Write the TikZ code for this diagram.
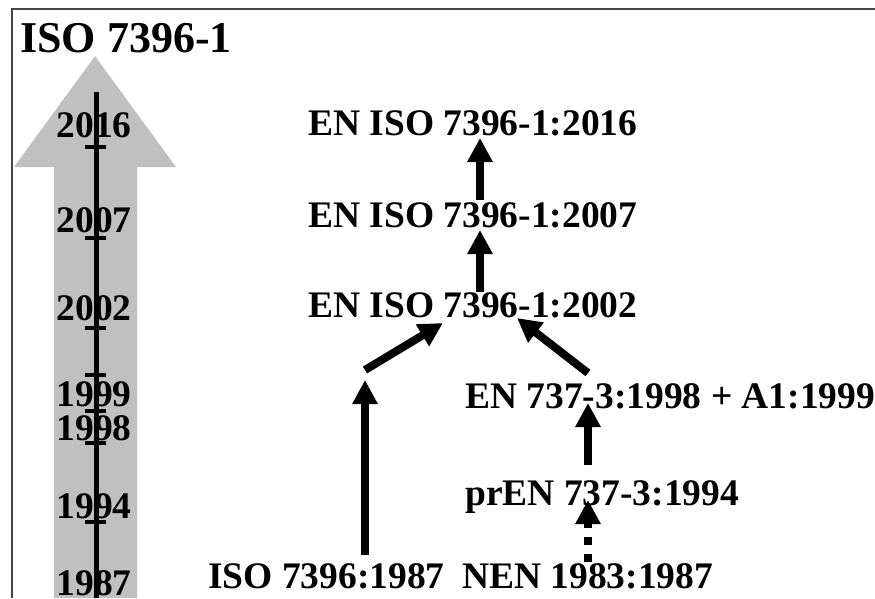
\documentclass[tikz,border=0pt]{standalone}
\usepackage{fontspec}
\setmainfont{Liberation Serif}
\usetikzlibrary{arrows.meta}
\definecolor{arrowgray}{RGB}{192,192,192}
\definecolor{framegray}{RGB}{70,70,70}
\begin{document}
\begin{tikzpicture}[x=1pt,y=-1pt,
  lbl/.style={font=\fontsize{37.5}{40}\selectfont\bfseries, inner sep=0pt, anchor=base west},
  yr/.style={font=\fontsize{37.5}{40}\selectfont\bfseries, inner sep=0pt, anchor=base},
  conn/.style={line width=8pt, -{Triangle[width=24pt,length=24pt]}},
  dconn/.style={conn, dash pattern=on 8pt off 9pt},
  tickmark/.style={line width=4pt},
  axis/.style={line width=5pt}]
\useasboundingbox (0,0) rectangle (875,598);
% frame
\draw[framegray, line width=1.5pt] (12,598) -- (12,9) -- (875,9);
% big gray arrow
\fill[arrowgray] (54,598) -- (54,167) -- (14,167) -- (95,56) -- (176,167) -- (137,167) -- (137,598) -- cycle;
% title
\node[anchor=base west, inner sep=0pt, font=\fontsize{44}{46}\selectfont\bfseries] (title) at (20,52) {ISO 7396-1};
% years
\node[yr] (y2016) at (94,137) {2016};
\node[yr] (y2007) at (94,232) {2007};
\node[yr] (y2002) at (94,320) {2002};
\node[yr] (y1999) at (94,406) {1999};
\node[yr] (y1998) at (94,440) {1998};
\node[yr] (y1994) at (94,518) {1994};
\node[yr] (y1987) at (94,595) {1987};
% time axis
\coordinate (axtop) at (96,92);
\coordinate (axbot) at (96,598);
\draw[axis] (axtop) -- (axbot);
\foreach \yy in {147,238,328,375,411,443,522}
  \draw[tickmark] (85,\yy) -- (106,\yy);
% standards
\node[lbl] (e2016) at (308,135) {EN ISO 7396-1:2016};
\node[lbl] (e2007) at (308,227) {EN ISO 7396-1:2007};
\node[lbl] (e2002) at (308,317) {EN ISO 7396-1:2002};
\node[lbl] (en737) at (465,408) {EN 737-3:1998 + A1:1999};
\node[lbl] (pren) at (465,505) {prEN 737-3:1994};
\node[lbl] (iso87) at (208,588) {ISO 7396:1987};
\node[lbl] (nen) at (462,588) {NEN 1983:1987};
% connector ends
\coordinate (a1s) at (480,200); \coordinate (a1e) at (480,138);
\coordinate (a2s) at (480,292); \coordinate (a2e) at (480,230);
\coordinate (a3s) at (365,555); \coordinate (a3e) at (365,380);
\coordinate (a4s) at (365,370); \coordinate (a4e) at (443,323);
\coordinate (a5s) at (588,373); \coordinate (a5e) at (517,318);
\coordinate (a6s) at (588,465); \coordinate (a6e) at (588,403);
\coordinate (a7s) at (588,562); \coordinate (a7e) at (588,500);
\draw[conn] (a1s) -- (a1e);
\draw[conn] (a2s) -- (a2e);
\draw[conn] (a3s) -- (a3e);
\draw[conn] (a4s) -- (a4e);
\draw[conn] (a5s) -- (a5e);
\draw[conn] (a6s) -- (a6e);
\draw[dconn] (a7s) -- (a7e);
\end{tikzpicture}
\end{document}
